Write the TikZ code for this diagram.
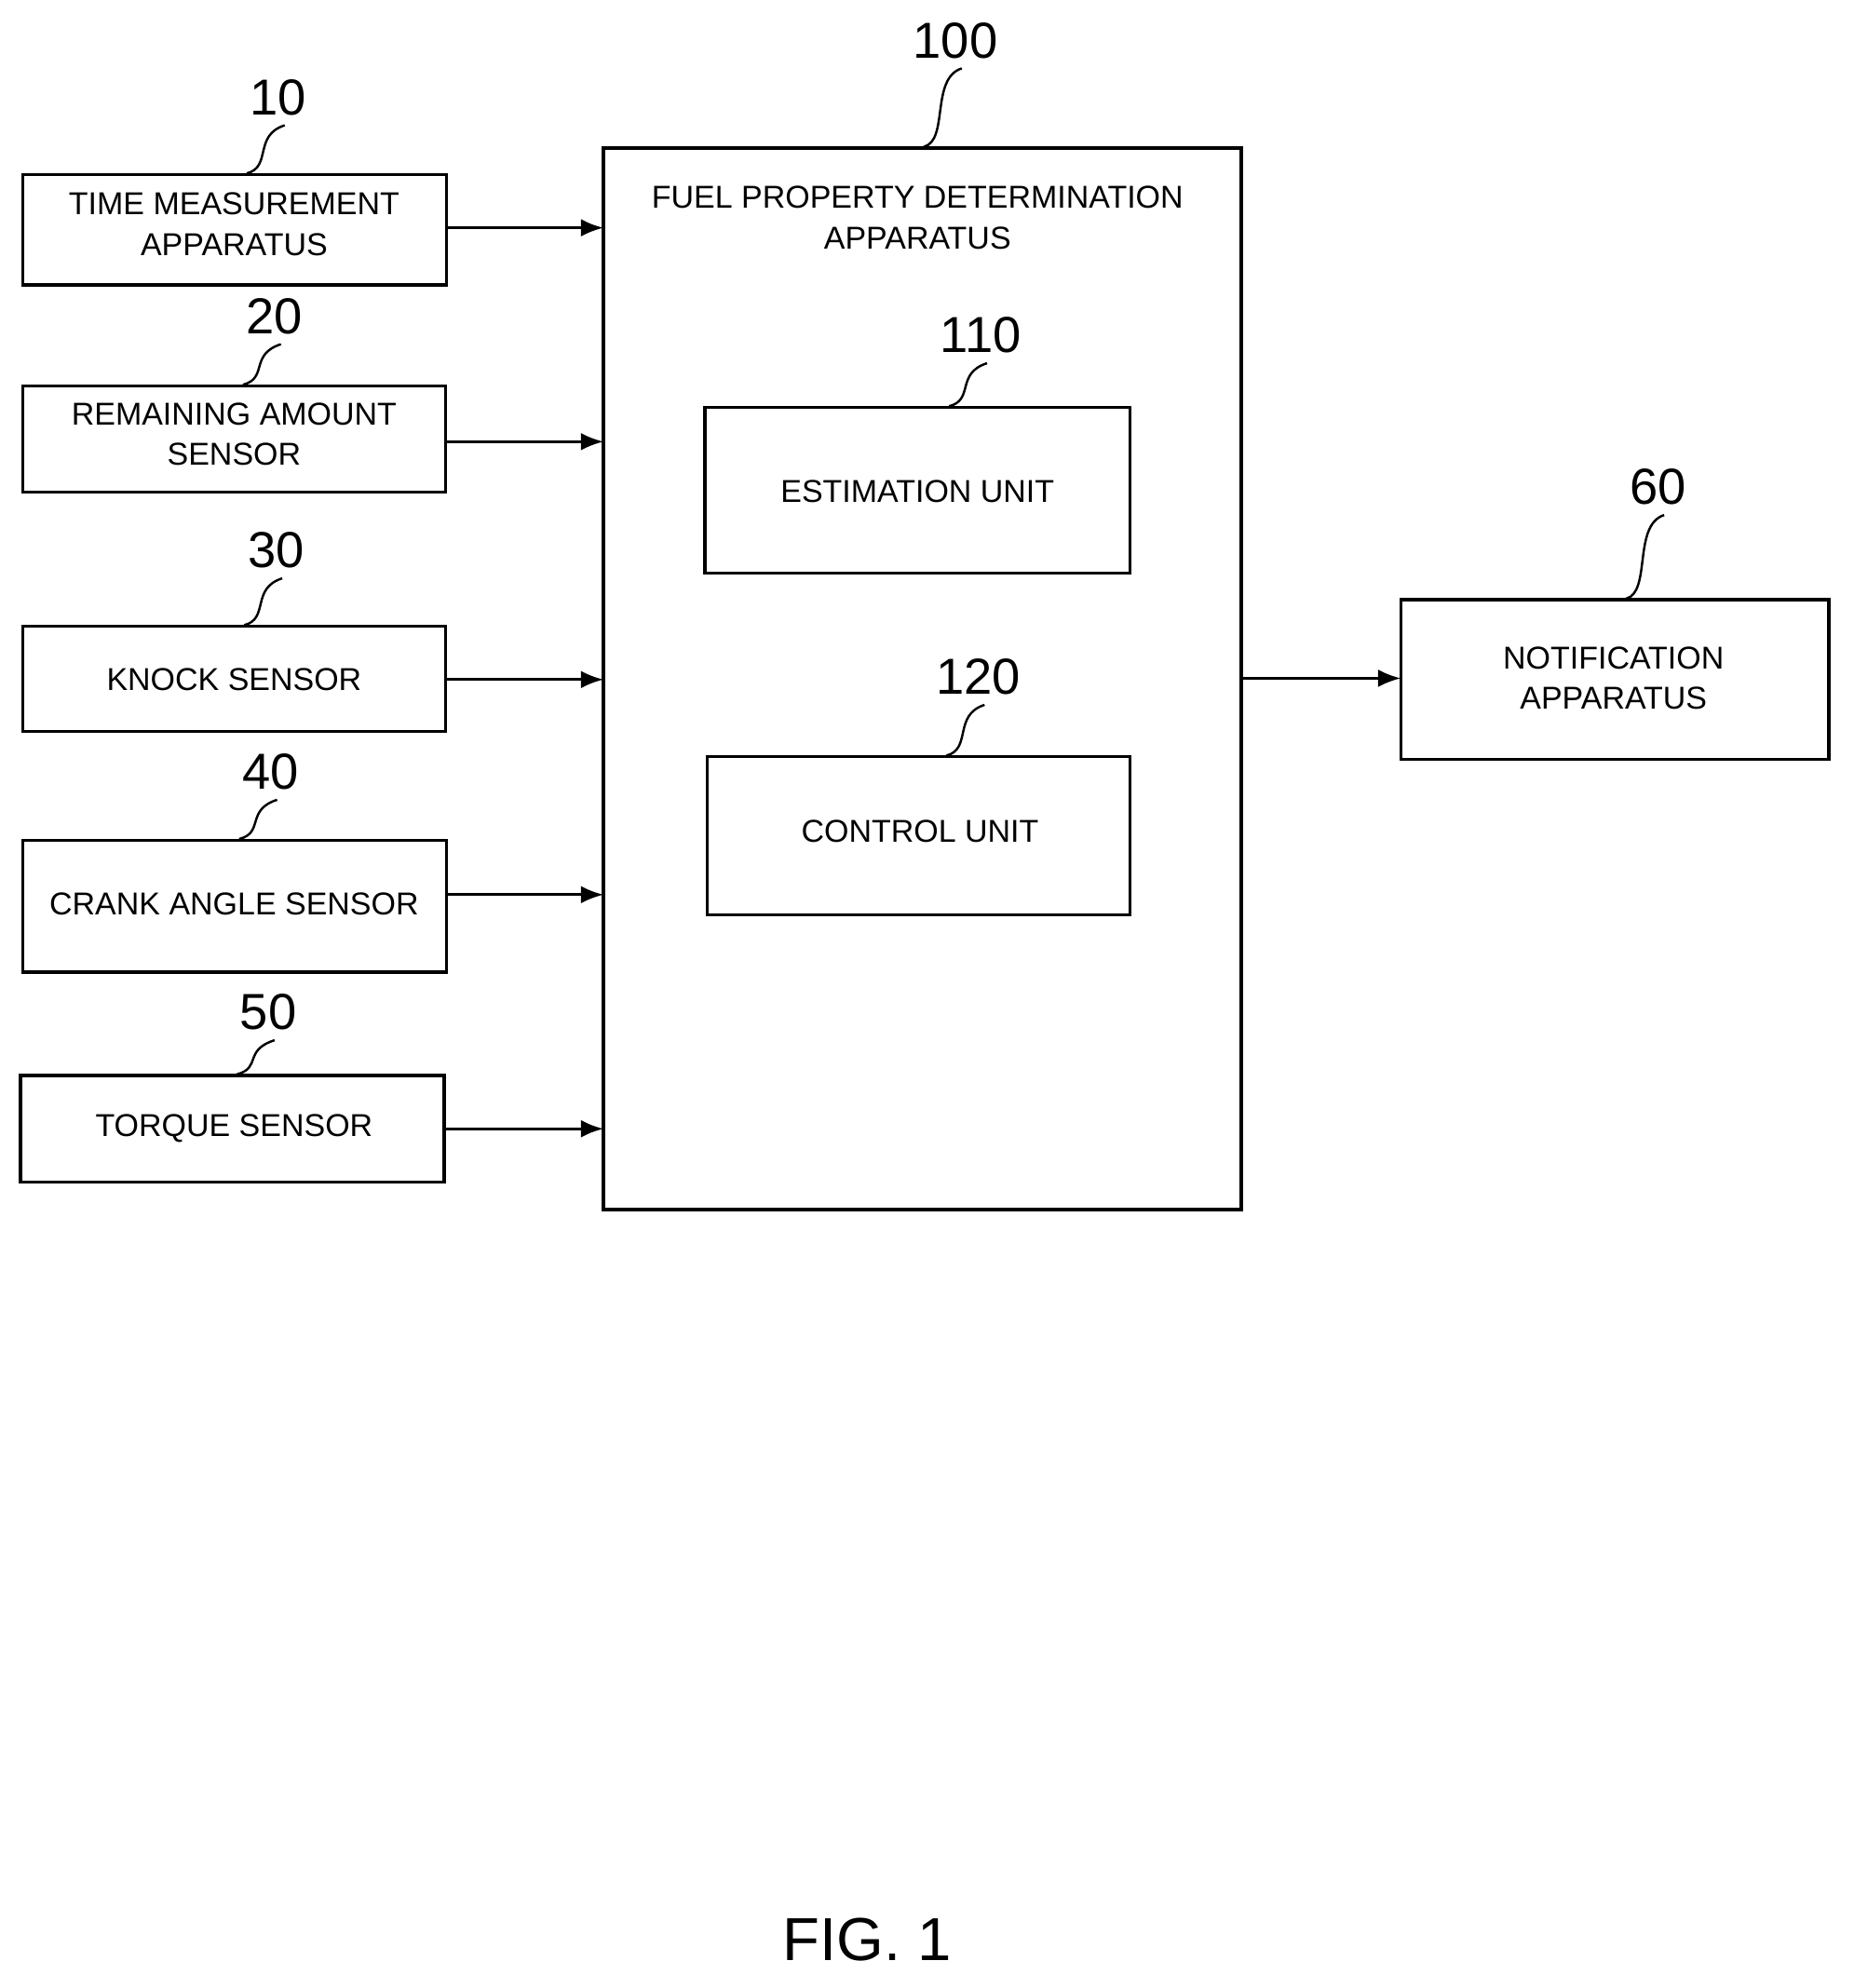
\documentclass[tikz,border=0pt]{standalone}
\usepackage{fontspec}
\setmainfont{Liberation Sans}
\usetikzlibrary{arrows.meta}
\begin{document}
\begin{tikzpicture}[x=0.5pt,y=-0.5pt,
  box/.style={draw,line width=1.3pt},
  txt/.style={font=\fontsize{12.5}{16}\selectfont,align=center},
  num/.style={font=\fontsize{20}{22}\selectfont},
  arr/.style={-{Latex[length=9pt,width=7pt]},line width=1.2pt},
  lead/.style={line width=0.9pt}]
\useasboundingbox (0,0) rectangle (1465,1571);
% input boxes
\draw[box] (18,138) rectangle (353,225) coordinate (b10);
\node[txt] (t10) at (185,177) {TIME MEASUREMENT\\APPARATUS};
\draw[box] (18,305) rectangle (352,389);
\node[txt] (t20) at (185,343) {REMAINING AMOUNT\\SENSOR};
\draw[box] (18,495) rectangle (352,578);
\node[txt] (t30) at (185,537) {KNOCK SENSOR};
\draw[box] (18,664) rectangle (353,768);
\node[txt] (t40) at (185,714) {CRANK ANGLE SENSOR};
\draw[box] (16,850) rectangle (351,934);
\node[txt] (t50) at (185,892) {TORQUE SENSOR};
% main
\draw[box] (477,117) rectangle (981,956);
\node[txt] (t100) at (725,172) {FUEL PROPERTY DETERMINATION\\APPARATUS};
\draw[box] (557,322) rectangle (893,453);
\node[txt] (t110) at (725,388) {ESTIMATION UNIT};
\draw[box] (559,598) rectangle (893,723);
\node[txt] (t120) at (727,657) {CONTROL UNIT};
\draw[box] (1107,474) rectangle (1445,600);
\node[txt] (t60) at (1275,536) {NOTIFICATION\\APPARATUS};
% arrows
\coordinate (i10) at (477,180); \coordinate (o10) at (353,180);
\coordinate (i20) at (477,349); \coordinate (o20) at (352,349);
\coordinate (i30) at (477,537); \coordinate (o30) at (352,537);
\coordinate (i40) at (477,707); \coordinate (o40) at (353,707);
\coordinate (i50) at (477,892); \coordinate (o50) at (351,892);
\coordinate (o100) at (981,536); \coordinate (i60) at (1107,536);
\foreach \k in {10,20,30,40,50} \draw[arr] (o\k) -- (i\k);
\draw[arr] (o100) -- (i60);
% labels with leaders
\newcommand{\lab}[4]{%
  \node[num] (n#1) at (#2,#3) {#1};
  \draw[lead] (#2-25,#4) .. controls (#2-5,#4-5) and (#2-20,#3+30) .. (#2+5,#3+22);}
\lab{10}{220}{77}{137}
\lab{20}{217}{250}{304}
\lab{30}{218}{435}{494}
\lab{40}{214}{610}{663}
\lab{50}{212}{800}{849}
\lab{100}{755}{32}{116}
\lab{110}{775}{265}{321}
\lab{120}{773}{535}{597}
\lab{60}{1310}{385}{473}
\node[font=\fontsize{24}{26}\selectfont] (fig) at (685,1533) {FIG. 1};
\end{tikzpicture}
\end{document}
